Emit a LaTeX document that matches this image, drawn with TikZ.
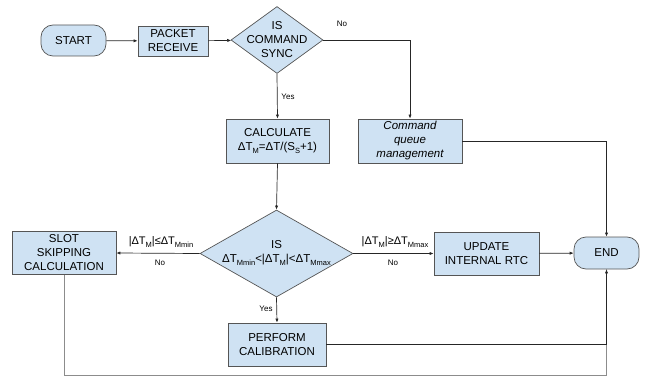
\documentclass[tikz,border=0pt]{standalone}
\usepackage{fontspec}
\setmainfont{Liberation Sans}
\usetikzlibrary{shapes.geometric,arrows.meta,calc}
\definecolor{boxfill}{HTML}{CFE2F3}
\definecolor{boxline}{HTML}{555555}
\definecolor{wire}{HTML}{262626}
\definecolor{grayline}{HTML}{8C8C8C}
% lowered small subscript used in the delta-T labels
\newcommand{\lowsub}[1]{\raisebox{-0.5ex}{\fontsize{7.5}{8}\selectfont #1}}
\tikzset{
  base/.style={draw=boxline, fill=boxfill, line width=0.7pt, inner sep=0pt,
    align=center, font=\fontsize{11.5}{14}\selectfont},
  procbox/.style={base, rectangle},
  termbox/.style={base, rectangle, rounded corners=12pt},
  decide/.style={base, diamond},
  conn/.style={draw=wire, line width=0.7pt, -{Latex[length=4pt,width=3.2pt]}},
  plain/.style={draw=wire, line width=0.7pt},
  grayconn/.style={draw=grayline, line width=1pt},
  small/.style={font=\fontsize{8}{9}\selectfont, inner sep=0pt},
  cond/.style={font=\fontsize{11}{12}\selectfont, inner sep=0pt},
}
\begin{document}
\begin{tikzpicture}[x=1pt, y=-1pt]
\useasboundingbox (0,0) rectangle (648,377);

% process shapes
\node[termbox, minimum width=65pt, minimum height=31pt] (start) at (73.5,40.5) {START};
\node[procbox, minimum width=70pt, minimum height=30pt] (packet) at (173,41) {PACKET\\RECEIVE};
\node[decide, minimum width=92pt, minimum height=67pt,
      label={[align=center, font=\fontsize{11.5}{14}\selectfont]center:IS\\COMMAND\\SYNC}] (sync) at (277,40) {};
\node[procbox, minimum width=103pt, minimum height=44pt] (calc) at (277.5,141)
  {CALCULATE\\ΔT\lowsub{M}=ΔT/(S\lowsub{S}+1)};
\node[procbox, minimum width=104pt, minimum height=44pt, font=\fontsize{11.5}{14}\selectfont\itshape] (queue) at (410,141)
  {Command\\queue\\management};
\node[decide, minimum width=153pt, minimum height=87pt,
      label={[align=center, font=\fontsize{11.5}{14}\selectfont]center:IS\\ΔT\lowsub{Mmin}<|ΔT\lowsub{M}|<ΔT\lowsub{Mmax}}] (dec) at (276.5,253.5) {};
\node[procbox, minimum width=104pt, minimum height=43pt] (slot) at (64,253) {SLOT\\SKIPPING\\CALCULATION};
\node[procbox, minimum width=105pt, minimum height=43pt] (update) at (486.5,253.5) {UPDATE\\INTERNAL RTC};
\node[termbox, minimum width=65pt, minimum height=32pt] (end) at (606.5,253) {END};
\node[procbox, minimum width=98pt, minimum height=43pt] (perform) at (277,344.5) {PERFORM\\CALIBRATION};

% return path from slot skipping
\coordinate (loopa) at (slot.south |- 0,375);
\coordinate (loopb) at (end.south |- 0,375);
\draw[grayconn] (slot.south) -- (loopa) -- (loopb) -- (end.south);

% connectors
\draw[conn] (start) -- (packet);
\draw[conn] (packet) -- (sync);
\draw[conn] (sync.east) -| (queue.north);
\node[small] (lno1) at (342,24) {No};
\draw[conn] (sync.south) -- (calc.north);
\node[small] (lyes1) at (288,97) {Yes};
\draw[conn] (calc.south) -- (dec.north);
\draw[conn] (queue.east) -| (end.north);
\draw[conn] (dec.west) -- (slot.east);
\node[cond] (lmin) at (161,242) {|ΔT\lowsub{M}|≤ΔT\lowsub{Mmin}};
\node[small] (lno2) at (160,263) {No};
\draw[conn] (dec.east) -- (update.west);
\node[cond] (lmax) at (395,242) {|ΔT\lowsub{M}|≥ΔT\lowsub{Mmax}};
\node[small] (lno3) at (393,263) {No};
\draw[conn] (update) -- (end);
\draw[conn] (dec.south) -- (perform.north);
\node[small] (lyes2) at (266,309) {Yes};
\draw[conn] (perform.east) -| (end.south);
\end{tikzpicture}
\end{document}
